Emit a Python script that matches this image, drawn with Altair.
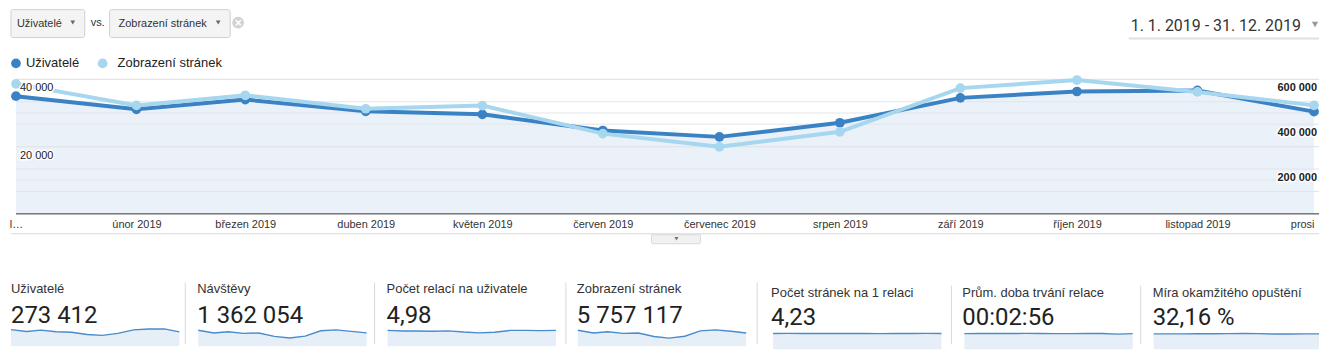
import json
import altair as alt
import pandas as pd

# ---------------- data ----------------
MONTHS = ["2019-01-01", "2019-02-01", "2019-03-01", "2019-04-01", "2019-05-01", "2019-06-01",
          "2019-07-01", "2019-08-01", "2019-09-01", "2019-10-01", "2019-11-01", "2019-12-01"]
X_LABELS = ["l…", "únor 2019", "březen 2019", "duben 2019", "květen 2019", "červen 2019",
            "červenec 2019", "srpen 2019", "září 2019", "říjen 2019", "listopad 2019", "prosi"]
SERIES = ["Uživatelé", "Zobrazení stránek"]
USERS = [35000, 31100, 34000, 30500, 29600, 24800, 22900, 27100, 34500, 36400, 36700, 30400]
PAGEVIEWS = [580000, 484000, 529000, 469000, 483000, 358000, 299000, 366000, 561000, 597000, 544000, 484000]
SESSIONS = [137000, 114000, 125000, 111000, 114000, 85000, 71000, 87000, 133000, 141000, 128000, 115000]
SESSIONS_PER_USER = [3.9, 3.75, 3.75, 3.7, 3.8, 3.5, 3.3, 3.45, 3.9, 3.9, 3.85, 3.9]
PAGES_PER_SESSION = [4.23, 4.25, 4.23, 4.22, 4.24, 4.21, 4.21, 4.20, 4.22, 4.23, 4.25, 4.21]
AVG_DURATION_S = [176, 177, 177, 177, 178, 177, 176, 176, 177, 177, 170, 176]
BOUNCE_RATE = [32.0, 32.1, 32.0, 32.2, 32.3, 32.6, 33.0, 32.5, 31.8, 31.9, 32.0, 32.0]

LEFT_TICKS = [0, 10000, 20000, 30000, 40000]
LEFT_LABELLED = [20000, 40000]
RIGHT_TICKS = [0, 100000, 200000, 300000, 400000, 500000, 600000]
RIGHT_LABELLED = [200000, 400000, 600000]

CARD_NAMES = ["Uživatelé", "Návštěvy", "Počet relací na uživatele", "Zobrazení stránek",
              "Počet stránek na 1 relaci", "Prům. doba trvání relace", "Míra okamžitého opuštění"]
CARD_VALUES = ["273 412", "1 362 054", "4,98", "5 757 117", "4,23", "00:02:56", "32,16 %"]
CARD_SERIES = [USERS, SESSIONS, SESSIONS_PER_USER, PAGEVIEWS, PAGES_PER_SESSION, AVG_DURATION_S, BOUNCE_RATE]

PICKERS = ["Uživatelé", "Zobrazení stránek"]
VS_TEXT = "vs."
CLOSE_TEXT = "×"
DATE_RANGE = "1. 1. 2019 - 31. 12. 2019"

# ---------------- style / layout (pixels relative to main plot origin) ----------------
FONT_UI = "Roboto"
FONT_AX = "Liberation Sans"
DARK = "#3a82c4"
LIGHT = "#a6d7ef"
GRID = "#e1e5ea"
W, H = 1303, 135
RIGHT_EDGE = 1308                                      # furthest drawn pixel to the right
CARD_X = [-5, 183, 373, 564, 760, 952, 1142]           # sparkline left edges
CARD_W = [169, 169, 169, 169, 169, 169, 166]
CARD_TEXT_X = [-5, 182, 372, 563, 758, 950, 1141]      # card text left edges
CARD_TOP = [248, 248, 248, 248, 251, 251, 251]         # sparkline top
CARD_BASE = [268, 268, 268, 268, 271, 271, 271]        # sparkline zero line
CARD_CUT = 266                                         # lowest drawn pixel of the cards
CARD_FILL = [0.88, 0.83, 0.80, 0.83, 0.80, 0.80, 0.80]  # share of sparkline height used by max value
CARD_NAME_Y = [214, 214, 214, 214, 218, 218, 218]
CARD_VALUE_Y = [245, 245, 245, 245, 247, 247, 247]
SEP_X = [None, 170, 360, 552, 744, 939, 1129]
SEP_TOP = [None, 204, 204, 204, 204, 207, 207]
LEGEND_X = [0, 87]

one = pd.DataFrame({"k": [0]})


def box(x1, x2, y1, y2, fill, stroke, r=2, sw=1):
    return alt.Chart(one).mark_rect(fill=fill, stroke=stroke, strokeWidth=sw, cornerRadius=r).encode(
        x=alt.value(x1), x2=alt.value(x2), y=alt.value(y1), y2=alt.value(y2))


def hline(x1, x2, y, color, sw=1):
    return alt.Chart(one).mark_rule(color=color, strokeWidth=sw).encode(
        x=alt.value(x1), x2=alt.value(x2), y=alt.value(y))


def vline(x, y1, y2, color, sw=1):
    return alt.Chart(one).mark_rule(color=color, strokeWidth=sw).encode(
        x=alt.value(x), y=alt.value(y1), y2=alt.value(y2))


def tri(x, y, color="#666", size=22):
    return alt.Chart(one).mark_point(shape="triangle-down", filled=True, size=size, color=color,
                                     opacity=1).encode(x=alt.value(x), y=alt.value(y))


def dot(x, y, color, size):
    return alt.Chart(one).mark_circle(size=size, color=color, opacity=1).encode(x=alt.value(x), y=alt.value(y))


def txt(t, x, y, size, color, font=FONT_AX, align="left", weight="normal", baseline="alphabetic"):
    return alt.Chart(pd.DataFrame({"t": [t]})).mark_text(
        align=align, baseline=baseline, font=font, fontSize=size, color=color, fontWeight=weight
    ).encode(text="t:N", x=alt.value(x), y=alt.value(y))


def utc_domain():
    return [alt.DateTime(year=2019, month=1, date=1, utc=True),
            alt.DateTime(year=2019, month=12, date=1, utc=True)]


def space_fmt(v):
    return f"{v:,}".replace(",", " ")


# ---------------- main chart ----------------
df = pd.DataFrame({"month": MONTHS, "users": USERS, "pageviews": PAGEVIEWS})

xscale = alt.Scale(type="utc", domain=utc_domain())
x_axis = alt.Axis(
    values=[alt.DateTime(year=2019, month=m, date=1, utc=True) for m in range(1, 13)],
    labelExpr=f"{json.dumps(X_LABELS, ensure_ascii=False)}[utcmonth(datum.value)]",
    title=None, grid=False, ticks=False, tickSize=0, domain=False,
    labelFont=FONT_AX, labelFontSize=11, labelColor="#333333", labelPadding=5,
    labelFlush=False, labelOverlap=False, zindex=1, minExtent=0,
    labelAlign={"condition": {"test": "utcmonth(datum.value) == 11", "value": "right"}, "value": "center"},
)
x_main = alt.X("month:T", scale=xscale, axis=x_axis)
x_plain = alt.X("month:T", scale=xscale, axis=None)

users_scale = alt.Scale(domain=[0, 40000], nice=False)
pv_scale = alt.Scale(domain=[0, 600000], nice=False)

left_lab = pd.DataFrame({"v": LEFT_LABELLED, "t": [space_fmt(v) for v in LEFT_LABELLED]})
right_lab = pd.DataFrame({"v": RIGHT_LABELLED, "t": [space_fmt(v) for v in RIGHT_LABELLED]})


def axis_text(data, scale, x, align, weight, halo):
    kw = dict(align=align, baseline="top", dy=3, font=FONT_AX, fontSize=11, fontWeight=weight)
    if halo:
        mk = alt.Chart(data).mark_text(color="white", stroke="white", strokeWidth=3, **kw)
    else:
        mk = alt.Chart(data).mark_text(color="#222222", **kw)
    return mk.encode(text="t:N", x=alt.value(x), y=alt.Y("v:Q", scale=scale, axis=None))


main_layers = [
    # fill under users
    alt.Chart(df).mark_area(color="#eaf1f9", opacity=1).encode(
        x=x_main, y=alt.Y("users:Q", scale=users_scale, axis=None)),
    # grid lines
    alt.Chart(pd.DataFrame({"v": LEFT_TICKS[1:]})).mark_rule(color=GRID, strokeWidth=1).encode(
        y=alt.Y("v:Q", scale=users_scale, axis=None), x=alt.value(0), x2=alt.value(RIGHT_EDGE)),
    alt.Chart(pd.DataFrame({"v": RIGHT_TICKS[1:]})).mark_rule(color=GRID, strokeWidth=1).encode(
        y=alt.Y("v:Q", scale=pv_scale, axis=None), x=alt.value(0), x2=alt.value(RIGHT_EDGE)),
    # base line of the plot
    hline(0, RIGHT_EDGE, H, "#333333", 1),
    # series
    alt.Chart(df).mark_line(color=DARK, strokeWidth=4).encode(
        x=x_plain, y=alt.Y("users:Q", scale=users_scale, axis=None)),
    alt.Chart(df).mark_circle(size=95, opacity=1, color=DARK).encode(
        x=x_plain, y=alt.Y("users:Q", scale=users_scale, axis=None)),
    alt.Chart(df).mark_line(color=LIGHT, strokeWidth=4).encode(
        x=x_plain, y=alt.Y("pageviews:Q", scale=pv_scale, axis=None)),
    alt.Chart(df).mark_circle(size=95, opacity=1, color=LIGHT).encode(
        x=x_plain, y=alt.Y("pageviews:Q", scale=pv_scale, axis=None)),
    # value labels of both axes, inside the plot
    axis_text(left_lab, users_scale, 4, "left", "normal", True),
    axis_text(left_lab, users_scale, 4, "left", "normal", False),
    axis_text(right_lab, pv_scale, W + 3, "right", "bold", True),
    axis_text(right_lab, pv_scale, W + 3, "right", "bold", False),
]

header = [
    box(-5, 69, -70, -42, "#f4f4f4", "#d0d0d0"),
    txt(PICKERS[0], 1, -53, 11, "#333333"),
    tri(57, -57),
    txt(VS_TEXT, 75, -54, 11, "#333333"),
    box(94, 215, -70, -42, "#f4f4f4", "#d0d0d0"),
    txt(PICKERS[1], 103, -53, 11, "#333333"),
    tri(203, -57),
    dot(223, -57, "#d2d2d2", 140),
    txt(CLOSE_TEXT, 223, -53, 12, "#ffffff", align="center", weight="bold"),
    txt(DATE_RANGE, 1119, -49, 16, "#333333", font=FONT_UI),
    tri(1304, -55, "#9a9a9a", 40),
    hline(1117, RIGHT_EDGE, -41, "#e0e0e0", 2),
    # legend
    dot(LEGEND_X[0], -16, DARK, 95),
    txt(SERIES[0], LEGEND_X[0] + 10, -12, 13, "#222222"),
    dot(LEGEND_X[1], -16, LIGHT, 95),
    txt(SERIES[1], LEGEND_X[1] + 15, -12, 13, "#222222"),
    # divider and collapse tab
    hline(-5, RIGHT_EDGE, 155, "#d8d8d8", 1),
    box(638, 687, 156, 165, "#f1f1f1", "#d8d8d8", 1),
    tri(663, 160, "#777777", 18),
]

# ---------------- sparkline cards ----------------
card_layers = []
for i, (name, value, series) in enumerate(zip(CARD_NAMES, CARD_VALUES, CARD_SERIES)):
    d = pd.DataFrame({"month": MONTHS, "v": series})
    xs = alt.X("month:T", scale=alt.Scale(type="utc", domain=utc_domain(),
                                          range=[CARD_X[i], CARD_X[i] + CARD_W[i]]), axis=None)
    ys = alt.Y("v:Q", scale=alt.Scale(domain=[0, max(series) / CARD_FILL[i]], nice=False,
                                      range=[CARD_BASE[i], CARD_TOP[i]]), axis=None)
    if SEP_X[i] is not None:
        card_layers.append(vline(SEP_X[i], SEP_TOP[i], CARD_CUT, "#d9d9d9"))
    card_layers += [
        alt.Chart(d).mark_area(color="#e6eef7", opacity=1).encode(x=xs, y=ys, y2=alt.value(CARD_CUT)),
        alt.Chart(d).mark_line(color="#4a8bca", strokeWidth=1.4).encode(x=xs, y=ys),
        txt(name, CARD_TEXT_X[i], CARD_NAME_Y[i], 13, "#333333"),
        txt(value, CARD_TEXT_X[i], CARD_VALUE_Y[i], 24, "#222222", font=FONT_UI),
    ]

chart = (
    alt.layer(*header, *main_layers, *card_layers)
    .resolve_scale(x="independent", y="independent")
    .properties(width=W, height=H, padding=0, background="white")
    .configure_view(strokeWidth=0)
)

chart.save("out.html", embed_options={"renderer": "svg", "actions": False})
